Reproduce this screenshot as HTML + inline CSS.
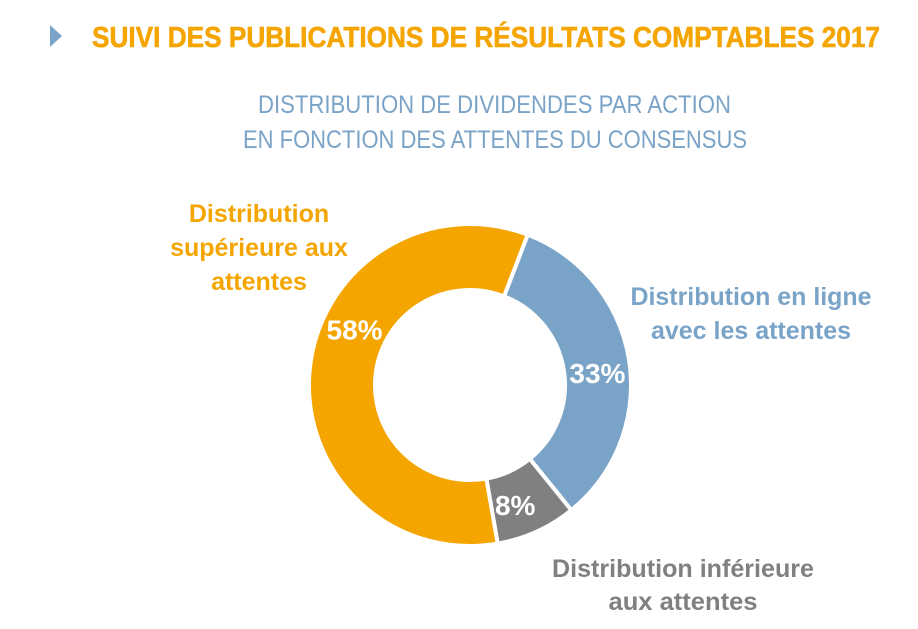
<!DOCTYPE html>
<html><head><meta charset="utf-8"><style>
html,body{margin:0;padding:0;background:#fff}
svg{display:block;font-family:"Liberation Sans Narrow","Liberation Sans",sans-serif}
</style></head><body>
<svg width="918" height="629" viewBox="0 0 918 629">
<polygon points="50,25 62,36 50,47" fill="#7AA3C8"/>
<text x="92" y="47" font-size="29" font-weight="bold" fill="#F5A500" stroke="#F5A500" stroke-width="0.6" textLength="788" lengthAdjust="spacingAndGlyphs">SUIVI DES PUBLICATIONS DE RÉSULTATS COMPTABLES 2017</text>
<text x="258" y="113" font-size="25" fill="#7AA3C8" textLength="473" lengthAdjust="spacingAndGlyphs">DISTRIBUTION DE DIVIDENDES PAR ACTION</text>
<text x="243" y="148" font-size="25" fill="#7AA3C8" textLength="504" lengthAdjust="spacingAndGlyphs">EN FONCTION DES ATTENTES DU CONSENSUS</text>
<g id="donut"></g>
<g font-weight="bold" font-size="25" text-anchor="middle">
<text x="259" y="222" fill="#F5A500">Distribution</text>
<text x="259" y="256" fill="#F5A500">supérieure aux</text>
<text x="259" y="290" fill="#F5A500">attentes</text>
<text x="751" y="305" fill="#7AA3C8" textLength="241" lengthAdjust="spacingAndGlyphs">Distribution en ligne</text>
<text x="751" y="339" fill="#7AA3C8" textLength="200" lengthAdjust="spacingAndGlyphs">avec les attentes</text>
<text x="683" y="577" fill="#808080" textLength="262" lengthAdjust="spacingAndGlyphs">Distribution inférieure</text>
<text x="683" y="610" fill="#808080" textLength="149" lengthAdjust="spacingAndGlyphs">aux attentes</text>
</g>
</svg>
<script>
const categories=["En ligne","Inférieure","Supérieure"];
const values=[33,8,58];
const labels=["33%","8%","58%"];
const colors=["#7AA3C8","#808080","#F5A500"];
const labelFrac=[0.53,0.63,0.595];
const cx=470,cy=385,R=161,r=95,start=21;
const g=document.getElementById('donut');
const total=values.reduce((a,b)=>a+b,0);
function pt(a,rad){const t=a*Math.PI/180;return [cx+rad*Math.sin(t),cy-rad*Math.cos(t)];}
let a=start;
values.forEach((v,i)=>{
  const sweep=v/total*360,a2=a+sweep,large=sweep>180?1:0;
  const p1=pt(a,R),p2=pt(a2,R),p3=pt(a2,r),p4=pt(a,r);
  const p=document.createElementNS('http://www.w3.org/2000/svg','path');
  p.setAttribute('d',`M${p1}A${R},${R} 0 ${large} 1 ${p2}L${p3}A${r},${r} 0 ${large} 0 ${p4}Z`);
  p.setAttribute('fill',colors[i]);p.setAttribute('stroke','#fff');p.setAttribute('stroke-width','4');
  
  
  g.appendChild(p);
  const la=a+sweep*labelFrac[i], lp=pt(la,128);
  const t=document.createElementNS('http://www.w3.org/2000/svg','text');
  t.setAttribute('x',lp[0]);t.setAttribute('y',lp[1]+10);
  t.setAttribute('text-anchor','middle');t.setAttribute('fill','#fff');
  t.setAttribute('font-size','28');t.setAttribute('font-weight','bold');
  t.textContent=labels[i];
  
  
  g.appendChild(t);
  a=a2;
});
</script>
</body></html>
